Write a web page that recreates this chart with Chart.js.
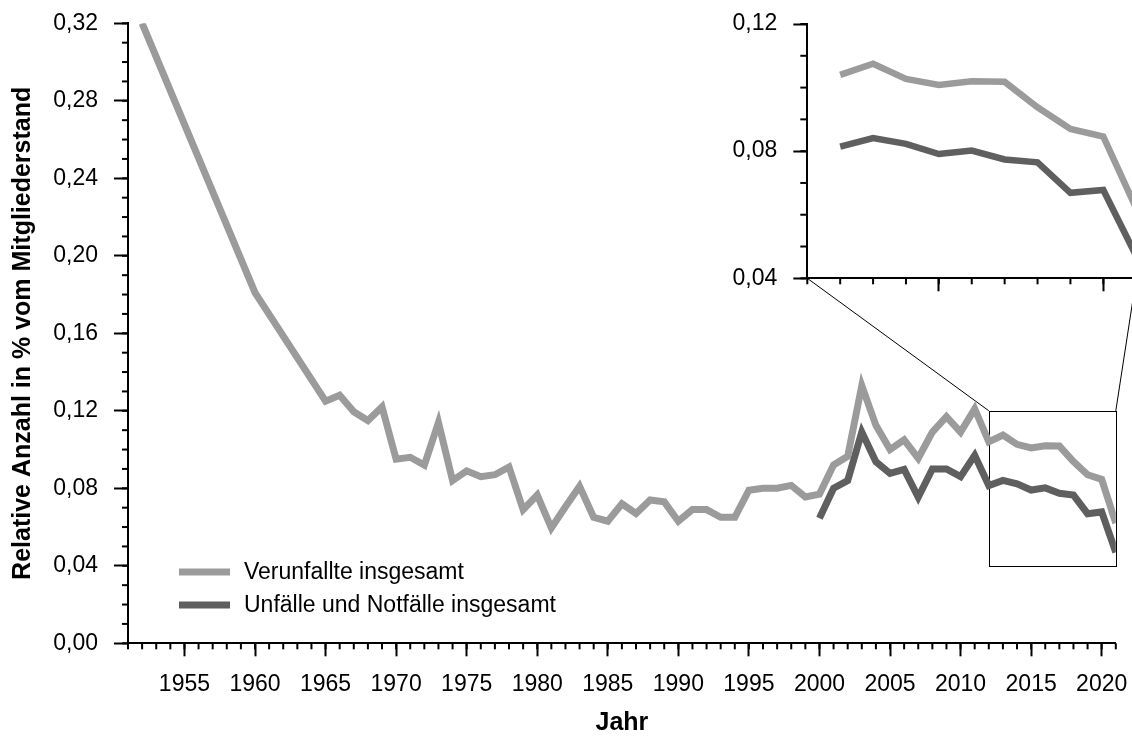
<!DOCTYPE html>
<html>
<head>
<meta charset="utf-8">
<script src="https://cdn.jsdelivr.net/npm/chart.js@4.4.1/dist/chart.umd.min.js"></script>
<style>
  html, body { margin: 0; padding: 0; background: #fff; }
  #wrap { position: relative; width: 1132px; height: 738px; overflow: hidden; }
  #main { position: absolute; left: 0; top: 0; }
  #inset { position: absolute; left: 700px; top: 0; }
</style>
</head>
<body>
<div id="wrap">
  <canvas id="main" width="1132" height="738"></canvas>
  <canvas id="inset" width="480" height="300"></canvas>
</div>
<script>
// Relative Anzahl Verunfallte / Unfälle - Mitgliederstand

// Data
const yearsVerunfallte = [1952, 1960, 1965, 1966, 1967, 1968, 1969, 1970, 1971, 1972, 1973, 1974,
  1975, 1976, 1977, 1978, 1979, 1980, 1981, 1982, 1983, 1984, 1985, 1986, 1987, 1988, 1989, 1990,
  1991, 1992, 1993, 1994, 1995, 1996, 1997, 1998, 1999, 2000, 2001, 2002, 2003, 2004, 2005, 2006,
  2007, 2008, 2009, 2010, 2011, 2012, 2013, 2014, 2015, 2016, 2017, 2018, 2019, 2020, 2021];
const verunfallte = [0.32, 0.181, 0.125, 0.128, 0.1195, 0.115, 0.122, 0.095, 0.096, 0.092, 0.114, 0.084,
  0.089, 0.086, 0.087, 0.091, 0.069, 0.0765, 0.0595, 0.0705, 0.081, 0.065, 0.063, 0.072, 0.067, 0.074, 0.073, 0.063,
  0.069, 0.069, 0.065, 0.065, 0.079, 0.080, 0.080, 0.0815, 0.0755, 0.077, 0.092, 0.0965, 0.133, 0.1125, 0.100, 0.105,
  0.0955, 0.109, 0.117, 0.109, 0.121, 0.104, 0.1075, 0.1027, 0.1008, 0.102, 0.1018, 0.0938, 0.087, 0.0846, 0.062];

const yearsNotfaelle = [2000, 2001, 2002, 2003, 2004, 2005, 2006, 2007, 2008, 2009, 2010,
  2011, 2012, 2013, 2014, 2015, 2016, 2017, 2018, 2019, 2020, 2021];
const notfaelle = [0.0645, 0.080, 0.084, 0.109, 0.0937, 0.0877, 0.0898, 0.0754, 0.090, 0.090, 0.086,
  0.097, 0.0814, 0.0841, 0.0823, 0.0791, 0.0802, 0.0774, 0.0765, 0.0669, 0.0678, 0.047];

const seriesLabels = ['Verunfallte insgesamt', 'Unfälle und Notfälle insgesamt'];

// Tick labels
const xTickYears = [1955, 1960, 1965, 1970, 1975, 1980, 1985, 1990, 1995, 2000, 2005, 2010, 2015, 2020];
const yTicksMain = [0, 0.04, 0.08, 0.12, 0.16, 0.20, 0.24, 0.28, 0.32];
const xTickYearsInset = [2015, 2020];
const yTicksInset = [0.04, 0.08, 0.12];

// Zoomed window (shown in the inset)
const zoomYears = [2012, 2021];
const zoomValues = [0.04, 0.12];

const FONT = "'Liberation Sans', Arial, sans-serif";
const LIGHT = '#9b9b9b';
const DARK = '#5f5f5f';

const toPoints = (xs, ys) => xs.map((x, i) => ({ x, y: ys[i] }));
const fmt = v => v.toFixed(2).replace('.', ',');

// Minor tick marks (every year / every 0.01)
const minorTicks = {
  id: 'minorTicks',
  afterDraw(chart, args, opts) {
    const ctx = chart.ctx;
    ctx.save();
    ctx.strokeStyle = '#000';
    ctx.lineWidth = 2;
    ['x', 'y'].forEach(id => {
      const o = opts[id];
      if (!o) return;
      const s = chart.scales[id];
      const n = Math.round((s.max - s.min) / o.step);
      for (let i = 0; i <= n; i++) {
        const p = s.getPixelForValue(s.min + i * o.step);
        ctx.beginPath();
        if (id === 'x') {
          ctx.moveTo(p, s.top);
          ctx.lineTo(p, s.top + o.len);
        } else {
          ctx.moveTo(s.right, p);
          ctx.lineTo(s.right - o.len, p);
        }
        ctx.stroke();
      }
    });
    ctx.restore();
  }
};

function axisX(min, max, majors, showLabels, fitHeight, title) {
  return {
    type: 'linear',
    min, max,
    afterBuildTicks: s => { s.ticks = majors.map(v => ({ value: v })); },
    afterFit: s => { s.height = fitHeight; s.paddingLeft = 0; s.paddingRight = 0; },
    border: { display: true, color: '#000', width: 2 },
    grid: { drawOnChartArea: false, tickLength: 13, tickColor: '#000', tickWidth: 2 },
    ticks: {
      padding: 15,
      maxRotation: 0,
      autoSkip: false,
      color: '#000',
      font: { family: FONT, size: 23 },
      callback: v => showLabels ? String(v) : ''
    },
    title: title ? {
      display: true, text: title, color: '#000',
      font: { family: FONT, size: 25, weight: 'bold' },
      padding: { top: 0, bottom: 0 }
    } : { display: false }
  };
}

function axisY(min, max, majors, fitWidth, title) {
  return {
    type: 'linear',
    min, max,
    afterBuildTicks: s => { s.ticks = majors.map(v => ({ value: v })); },
    afterFit: s => { s.width = fitWidth; s.paddingTop = 0; s.paddingBottom = 0; },
    border: { display: true, color: '#000', width: 2 },
    grid: { drawOnChartArea: false, tickLength: 14, tickColor: '#000', tickWidth: 2 },
    ticks: {
      padding: 16,
      autoSkip: false,
      color: '#000',
      font: { family: FONT, size: 23 },
      callback: v => fmt(v)
    },
    title: title ? {
      display: true, text: title, color: '#000',
      font: { family: FONT, size: 25, weight: 'bold' },
      padding: { top: 8, bottom: 0 }
    } : { display: false }
  };
}

function lineSet(label, xs, ys, color, width) {
  return {
    label,
    data: toPoints(xs, ys),
    borderColor: color,
    backgroundColor: color,
    borderWidth: width,
    pointRadius: 0,
    tension: 0,
    fill: false
  };
}

// Inset chart (zoom on the last years)
const insetFrom = zoomYears[0];
const insetCanvas = document.getElementById('inset');
const insetChart = new Chart(insetCanvas.getContext('2d'), {
  type: 'line',
  data: {
    datasets: [
      lineSet(seriesLabels[0], yearsVerunfallte.filter(y => y >= insetFrom),
        verunfallte.filter((v, i) => yearsVerunfallte[i] >= insetFrom), LIGHT, 6.5),
      lineSet(seriesLabels[1], yearsNotfaelle.filter(y => y >= insetFrom),
        notfaelle.filter((v, i) => yearsNotfaelle[i] >= insetFrom), DARK, 6.5)
    ]
  },
  options: {
    responsive: false,
    animation: false,
    events: [],
    layout: { autoPadding: false, padding: { top: 24, right: 43.8, left: 0, bottom: 0 } },
    plugins: {
      legend: { display: false },
      tooltip: { enabled: false },
      minorTicks: { x: { step: 1, len: 6 }, y: { step: 0.01, len: 7 } }
    },
    scales: {
      x: axisX(2011, 2021, xTickYearsInset, false, 21.7, null),
      y: axisY(zoomValues[0], zoomValues[1], yTicksInset, 107.3, null)
    }
  },
  plugins: [minorTicks]
});

// Zoom box + connector lines to the inset
const zoomBox = {
  id: 'zoomBox',
  beforeDatasetsDraw(chart) {
    const { ctx, scales: { x, y } } = chart;
    const x0 = x.getPixelForValue(zoomYears[0]);
    const x1 = x.getPixelForValue(zoomYears[1]);
    const y0 = y.getPixelForValue(zoomValues[1]);
    const y1 = y.getPixelForValue(zoomValues[0]);
    const ia = insetChart.chartArea;
    const ox = insetCanvas.offsetLeft, oy = insetCanvas.offsetTop;
    ctx.save();
    ctx.strokeStyle = '#000';
    ctx.lineWidth = 1;
    ctx.strokeRect(Math.round(x0) + 0.5, Math.round(y0) + 0.5, Math.round(x1 - x0), Math.round(y1 - y0));
    ctx.beginPath();
    ctx.moveTo(x0, y0);
    ctx.lineTo(ox + ia.left, oy + ia.bottom);
    ctx.moveTo(x1, y0);
    ctx.lineTo(ox + ia.right, oy + ia.bottom);
    ctx.stroke();
    ctx.restore();
  }
};

// Legend drawn inside the plot area
const innerLegend = {
  id: 'innerLegend',
  afterDatasetsDraw(chart) {
    const ctx = chart.ctx;
    const rows = [572, 605];
    ctx.save();
    ctx.font = '23px ' + FONT;
    ctx.textBaseline = 'middle';
    ctx.fillStyle = '#000';
    chart.data.datasets.forEach((ds, i) => {
      ctx.strokeStyle = ds.borderColor;
      ctx.lineWidth = 7;
      ctx.beginPath();
      ctx.moveTo(179, rows[i]);
      ctx.lineTo(230, rows[i]);
      ctx.stroke();
      ctx.fillText(ds.label, 244, rows[i] + 1);
    });
    ctx.restore();
  }
};

// Main chart
const mainChart = new Chart(document.getElementById('main').getContext('2d'), {
  type: 'line',
  data: {
    datasets: [
      lineSet(seriesLabels[0], yearsVerunfallte, verunfallte, LIGHT, 7),
      lineSet(seriesLabels[1], yearsNotfaelle, notfaelle, DARK, 7)
    ]
  },
  options: {
    responsive: false,
    animation: false,
    events: [],
    layout: { autoPadding: false, padding: { top: 23.3, right: 16.2, left: 0, bottom: 0 } },
    plugins: {
      legend: { display: false },
      tooltip: { enabled: false },
      minorTicks: { x: { step: 1, len: 6 }, y: { step: 0.01, len: 6 } }
    },
    scales: {
      x: axisX(1951, 2021, xTickYears, true, 94.7, 'Jahr'),
      y: axisY(0, 0.32, yTicksMain, 128, 'Relative Anzahl in % vom Mitgliederstand')
    }
  },
  plugins: [minorTicks, zoomBox, innerLegend]
});
</script>
</body>
</html>
